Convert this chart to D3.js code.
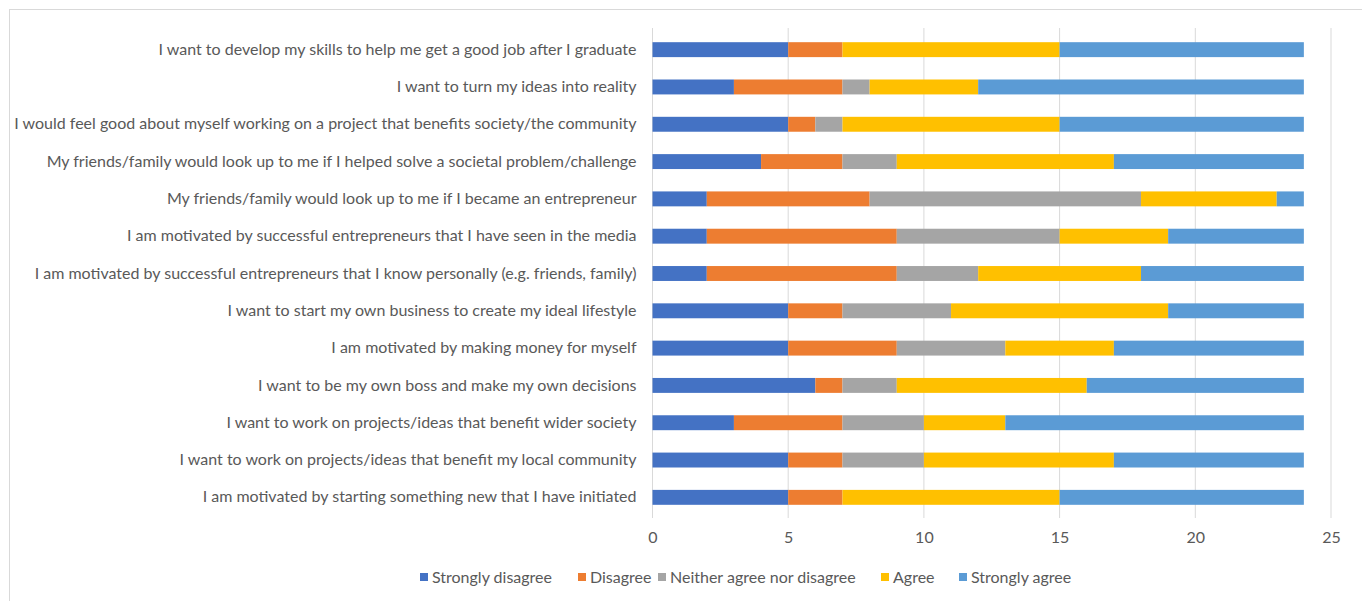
<!DOCTYPE html>
<html><head><meta charset="utf-8">
<script src="https://cdn.jsdelivr.net/npm/d3@7"></script>
<style>body{margin:0;background:#fff;} svg{display:block;font-family:Lato, "Open Sans", sans-serif;}</style>
</head><body>
<svg id="chart" width="1362" height="601"></svg>
<script>
const categories = [
  "I want to develop my skills to help me get a good job after I graduate",
  "I want to turn my ideas into reality",
  "I would feel good about myself working on a project that benefits society/the community",
  "My friends/family would look up to me if I helped solve a societal problem/challenge",
  "My friends/family would look up to me if I became an entrepreneur",
  "I am motivated by successful entrepreneurs that I have seen in the media",
  "I am motivated by successful entrepreneurs that I know personally (e.g. friends, family)",
  "I want to start my own business to create my ideal lifestyle",
  "I am motivated by making money for myself",
  "I want to be my own boss and make my own decisions",
  "I want to work on projects/ideas that benefit wider society",
  "I want to work on projects/ideas that benefit my local community",
  "I am motivated by starting something new that I have initiated"
];
const seriesNames = ["Strongly disagree","Disagree","Neither agree nor disagree","Agree","Strongly agree"];
const stronglyDisagree = [5,3,5,4,2,2,2,5,5,6,3,5,5];
const disagree         = [2,4,1,3,6,7,7,2,4,1,4,2,2];
const neither          = [0,1,1,2,10,6,3,4,4,2,3,3,0];
const agree            = [8,4,8,8,5,4,6,8,4,7,3,7,8];
const stronglyAgree    = [9,12,9,7,1,5,6,5,7,8,11,7,9];
const tickValues = [0,5,10,15,20,25];
const colors = ["#4472C4","#ED7D31","#A5A5A5","#FFC000","#5B9BD5"];

const seriesValues = [stronglyDisagree, disagree, neither, agree, stronglyAgree];
const rows = categories.map((c,i)=>{
  const o = {cat:c};
  seriesNames.forEach((s,j)=>o[s]=seriesValues[j][i]);
  return o;
});

const FS = "16px";
const svg = d3.select("#chart");
svg.append("rect").attr("x",9.5).attr("y",9.5).attr("width",1400).attr("height",700)
  .attr("fill","none").attr("stroke","#d9d9d9").attr("stroke-width",1);

const x = d3.scaleLinear().domain([0,25]).range([652.5,1331]);
const y = d3.scaleBand().domain(categories).range([31,516]).paddingInner(0.6).paddingOuter(0.3);

svg.append("g").selectAll("line").data(tickValues).join("line")
  .attr("x1",d=>x(d)).attr("x2",d=>x(d)).attr("y1",28).attr("y2",518)
  .attr("stroke","#d9d9d9").attr("stroke-width",1);

const stack = d3.stack().keys(seriesNames)(rows);
svg.append("g").selectAll("g").data(stack).join("g")
  .attr("fill",(d,i)=>colors[i])
  .selectAll("rect").data(d=>d).join("rect")
  .attr("x",d=>x(d[0])).attr("width",d=>x(d[1])-x(d[0]))
  .attr("y",d=>y(d.data.cat)).attr("height",y.bandwidth());

const yAxis = d3.axisLeft(y).tickSize(0).tickPadding(16);
const gy = svg.append("g").attr("transform",`translate(${x(0)},0)`).call(yAxis);
gy.select(".domain").remove();
gy.selectAll("text").attr("fill","#595959").style("font-size",FS).style("font-family","Lato, sans-serif");

const xAxis = d3.axisBottom(x).tickValues(tickValues).tickSize(0).tickPadding(9);
const gx = svg.append("g").attr("transform","translate(0,523)").call(xAxis);
gx.select(".domain").remove();
gx.selectAll("text").attr("fill","#595959").style("font-size",FS).style("font-family","Lato, sans-serif");

const legendTextX = [432,590,670,893,971];
const lg = svg.append("g");
seriesNames.forEach((s,i)=>{
  lg.append("rect").attr("x",legendTextX[i]-12).attr("y",573).attr("width",8).attr("height",8).attr("fill",colors[i]);
  lg.append("text").attr("x",legendTextX[i]).attr("y",583).text(s)
    .attr("fill","#595959").style("font-size",FS);
});
</script>
</body></html>
